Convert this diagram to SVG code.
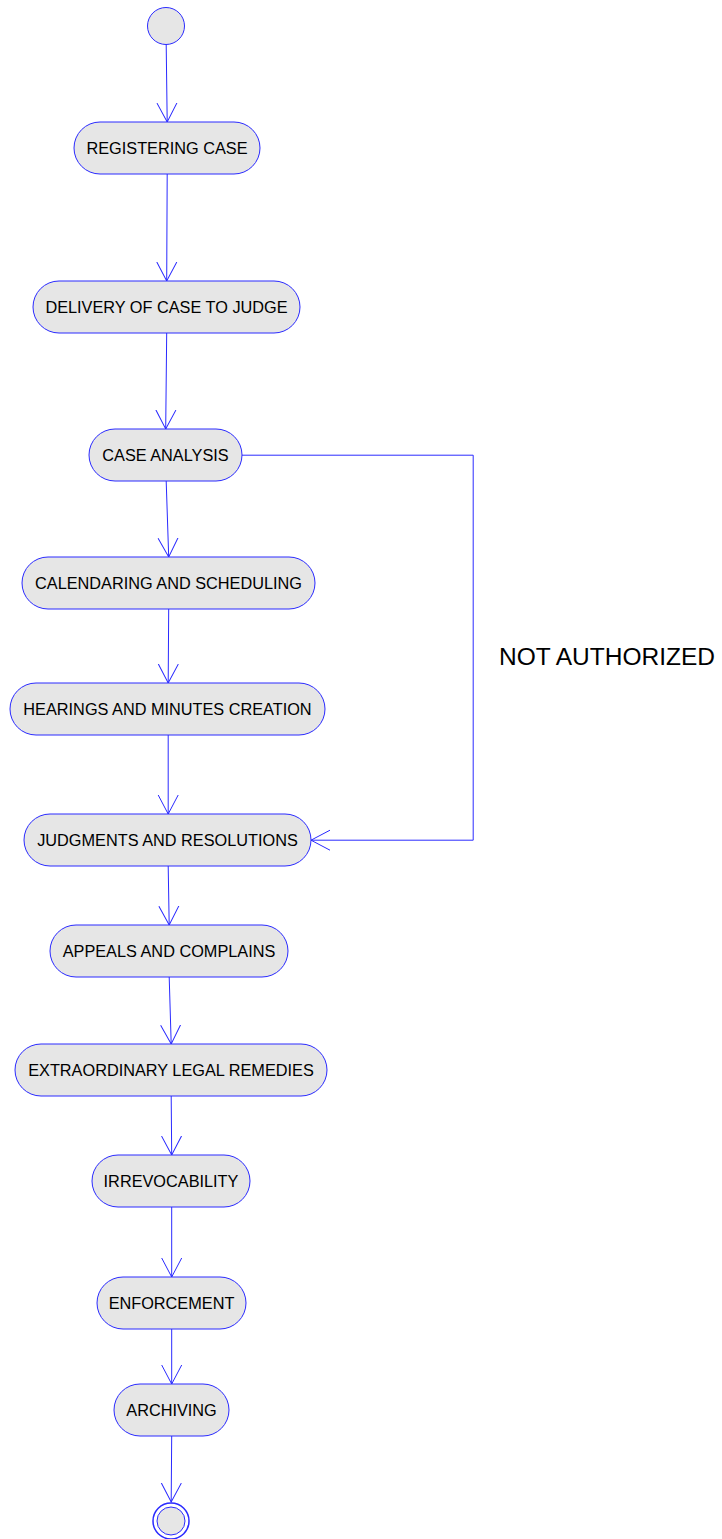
<svg xmlns="http://www.w3.org/2000/svg" width="722" height="1539" viewBox="0 0 722 1539">
<style>
.n{fill:#e6e6e6;stroke:#2a2aff;stroke-width:1}
.t{font-family:"Liberation Sans",Arial,sans-serif;font-size:16.3px;fill:#000;text-anchor:middle}
.e{fill:none;stroke:#2a2aff;stroke-width:1}
</style>
<defs>
<marker id="a" markerUnits="userSpaceOnUse" markerWidth="24" markerHeight="24" refX="19" refY="10" orient="auto" viewBox="0 0 24 20">
<path d="M0,0 L19,10 L0,20" fill="none" stroke="#2a2aff" stroke-width="1"/>
</marker>
</defs>
<rect width="722" height="1539" fill="#fff"/>
<g id="connectors">
<line class="e" x1="166.2" y1="44" x2="167.2" y2="122" marker-end="url(#a)"/>
<line class="e" x1="167.2" y1="174" x2="166.7" y2="281" marker-end="url(#a)"/>
<line class="e" x1="166.7" y1="333" x2="165.7" y2="429" marker-end="url(#a)"/>
<line class="e" x1="166.2" y1="481" x2="168.7" y2="557" marker-end="url(#a)"/>
<line class="e" x1="168.7" y1="609" x2="168.2" y2="683" marker-end="url(#a)"/>
<line class="e" x1="168.2" y1="735" x2="168.2" y2="814" marker-end="url(#a)"/>
<line class="e" x1="168.2" y1="866" x2="169.2" y2="925" marker-end="url(#a)"/>
<line class="e" x1="169.2" y1="977" x2="171.2" y2="1044" marker-end="url(#a)"/>
<line class="e" x1="171.2" y1="1096" x2="171.7" y2="1155" marker-end="url(#a)"/>
<line class="e" x1="171.7" y1="1207" x2="171.7" y2="1277" marker-end="url(#a)"/>
<line class="e" x1="171.7" y1="1329" x2="171.7" y2="1384" marker-end="url(#a)"/>
<line class="e" x1="171.7" y1="1436" x2="171.2" y2="1502" marker-end="url(#a)"/>
<polyline class="e" points="242,455.2 473.2,455.2 473.2,840.2 311,840.2" marker-end="url(#a)"/>
<text x="499" y="665" style="font-family:'Liberation Sans',Arial,sans-serif;font-size:24.5px;fill:#000">NOT AUTHORIZED</text>
</g>
<g id="start"><circle cx="166" cy="26" r="18.5" class="n"/></g>
<g id="registering"><rect class="n" x="74" y="122" width="186" height="52" rx="26"/><text class="t" x="167" y="154">REGISTERING CASE</text></g>
<g id="delivery"><rect class="n" x="33" y="281" width="267" height="52" rx="26"/><text class="t" x="166.5" y="313">DELIVERY OF CASE TO JUDGE</text></g>
<g id="analysis"><rect class="n" x="89" y="429" width="153" height="52" rx="26"/><text class="t" x="165.5" y="461">CASE ANALYSIS</text></g>
<g id="calendaring"><rect class="n" x="22" y="557" width="293" height="52" rx="26"/><text class="t" x="168.5" y="589">CALENDARING AND SCHEDULING</text></g>
<g id="hearings"><rect class="n" x="10" y="683" width="315" height="52" rx="26"/><text class="t" x="167.5" y="715">HEARINGS AND MINUTES CREATION</text></g>
<g id="judgments"><rect class="n" x="24" y="814" width="287" height="52" rx="26"/><text class="t" x="167.5" y="846">JUDGMENTS AND RESOLUTIONS</text></g>
<g id="appeals"><rect class="n" x="50" y="925" width="238" height="52" rx="26"/><text class="t" x="169" y="957">APPEALS AND COMPLAINS</text></g>
<g id="extraordinary"><rect class="n" x="15" y="1044" width="312" height="52" rx="26"/><text class="t" x="171" y="1076">EXTRAORDINARY LEGAL REMEDIES</text></g>
<g id="irrevocability"><rect class="n" x="92" y="1155" width="158" height="52" rx="26"/><text class="t" x="171" y="1187">IRREVOCABILITY</text></g>
<g id="enforcement"><rect class="n" x="97" y="1277" width="149" height="52" rx="26"/><text class="t" x="171.5" y="1309">ENFORCEMENT</text></g>
<g id="archiving"><rect class="n" x="114" y="1384" width="115" height="52" rx="26"/><text class="t" x="171.5" y="1416">ARCHIVING</text></g>
<g id="end"><circle cx="171" cy="1521" r="18" fill="#fff" stroke="#2a2aff" stroke-width="1.5"/><circle cx="171" cy="1521" r="14" class="n" stroke-width="1.5"/></g>
</svg>
